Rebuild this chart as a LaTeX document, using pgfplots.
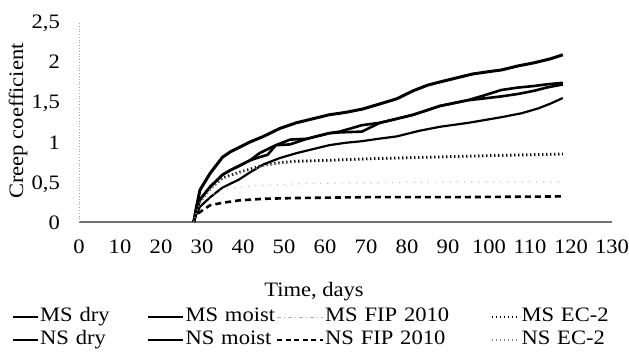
\documentclass[border=0pt]{standalone}
\usepackage{fontspec}
\setmainfont{Liberation Serif}[FakeStretch=1.1]
\usepackage{pgfplots}
\pgfplotsset{compat=1.18}
\begin{document}
\fontsize{20.5bp}{24bp}\selectfont
\begin{tikzpicture}
\path[use as bounding box] (0,0) rectangle (629bp,358bp);
\begin{axis}[
  at={(79bp,136bp)}, anchor=south west,
  width=533bp, height=200bp, scale only axis,
  xmin=0, xmax=130, ymin=0, ymax=2.5,
  xtick={0,10,20,30,40,50,60,70,80,90,100,110,120,130},
  ytick={0,0.5,1,1.5,2,2.5},
  yticklabels={0,{0,5},1,{1,5},2,{2,5}},
  /pgf/number format/assume math mode=true,
  axis x line=bottom, axis y line=left,
  x axis line style={draw=black!55, line width=1.2bp, -},
  y axis line style={draw=black!35, dotted, line width=0.8bp, -},
  major tick length=0pt,
  xticklabel style={anchor=base, yshift=-31bp},
  yticklabel style={anchor=base east, xshift=-19bp, yshift=-7bp, inner sep=0pt},
  xlabel={Time, days},
  xlabel style={at={(axis description cs:0.441,-0.35)}, anchor=center},
  ylabel={Creep coefficient},
  ylabel style={at={(axis description cs:-0.1144,0.505)}, anchor=center},
  legend columns=4,
  legend style={at={(axis description cs:-0.1257,-0.4175)}, anchor=north west,
    draw=none, fill=none, inner sep=0pt, outer sep=0pt,
    column sep=0pt, row sep=0pt,
    nodes={inner xsep=1bp, inner ysep=2bp, text height=14bp, text depth=5bp}},
  legend cell align=left,
  clip=false,
]
% MS dry
\addplot[black, line width=3bp, line join=round,
  legend image code/.code={\draw[black, line width=2.2bp] (0bp,0bp) -- (25bp,0bp);}]
  coordinates {(28,0) (28.5,0.15) (29.5,0.40) (32,0.61) (35,0.81) (37,0.88) (41.7,1.00) (45,1.07) (49,1.17) (53,1.24) (57,1.29) (61,1.34) (65,1.37) (69,1.41) (73,1.47) (77.5,1.54) (81.5,1.64) (85,1.71) (88,1.75) (92,1.80) (96,1.85) (100,1.88) (103,1.90) (107,1.95) (111,1.99) (115,2.04) (118,2.09)};
\addlegendentry[text width=106bp]{MS dry}
% MS moist
\addplot[black, line width=2.2bp, line join=round,
  legend image code/.code={\draw[black, line width=1.4bp] (0bp,0bp) -- (35bp,0bp);}]
  coordinates {(28,0) (28.5,0.08) (29.5,0.19) (32,0.31) (35,0.43) (39,0.53) (41.7,0.62) (45,0.72) (49,0.80) (53,0.86) (57,0.91) (61,0.96) (65,0.99) (69,1.01) (73,1.04) (77.5,1.07) (83,1.14) (88,1.19) (95,1.24) (103,1.31) (108,1.36) (112,1.42) (115,1.48) (118,1.55)};
\addlegendentry[text width=90bp]{MS moist}
% MS FIP 2010
\addplot[black!22, line width=1.2bp, dash pattern=on 1.2bp off 6bp,
  legend image code/.code={\draw[black!30, line width=1bp, dash pattern=on 4bp off 3bp on 1bp off 3bp] (0bp,0bp) -- (46bp,0bp);}]
  coordinates {(28,0) (29,0.2) (32,0.33) (35,0.40) (40,0.44) (45,0.46) (55,0.48) (70,0.49) (90,0.50) (118,0.50)};
\addlegendentry[text width=165bp]{MS FIP 2010}
% MS EC-2
\addplot[black, line width=2.8bp, dash pattern=on 1.3bp off 2.7bp,
  legend image code/.code={\draw[black, line width=1.4bp, dash pattern=on 1.4bp off 2.6bp] (0bp,0bp) -- (28bp,0bp);}]
  coordinates {(28,0) (28.5,0.10) (29.5,0.25) (32,0.42) (35,0.55) (39,0.62) (45,0.71) (49,0.74) (53,0.76) (60,0.77) (70,0.79) (85,0.81) (100,0.83) (118,0.85)};
\addlegendentry[text width=100bp]{MS EC-2}
% NS dry (upper branch)
\addplot[black, line width=2.6bp, line join=round,
  legend image code/.code={\draw[black, line width=1.6bp] (0bp,0bp) -- (25bp,0bp);}]
  coordinates {(28,0) (28.5,0.12) (29.5,0.28) (32,0.44) (35,0.59) (37,0.65) (39,0.70) (41.7,0.77) (44,0.86) (46,0.91) (48,0.96) (51.5,1.03) (55.6,1.04) (61,1.11) (63.6,1.13) (69,1.21) (73.4,1.24) (77.5,1.29) (81.5,1.34) (88,1.45) (94.6,1.52) (98,1.57) (103,1.65) (107,1.68) (111,1.70) (114,1.72) (118,1.74)};
\addlegendentry[text width=106bp]{NS dry}
% NS moist (lower branch)
\addplot[black, line width=2.6bp, line join=round,
  legend image code/.code={\draw[black, line width=2.4bp] (0bp,0bp) -- (35bp,0bp);}]
  coordinates {(28,0) (28.5,0.12) (29.5,0.28) (32,0.44) (35,0.59) (37,0.65) (39,0.70) (41.7,0.77) (44,0.81) (46,0.84) (48,0.96) (51.5,0.97) (55.6,1.04) (61,1.11) (63.6,1.12) (69,1.13) (73.4,1.24) (77.5,1.29) (81.5,1.34) (88,1.45) (94.6,1.52) (98,1.54) (103,1.57) (107,1.60) (111,1.64) (114,1.68) (118,1.72)};
\addlegendentry[text width=90bp]{NS moist}
% NS FIP 2010
\addplot[black, line width=2.6bp, dash pattern=on 6bp off 4bp,
  legend image code/.code={\draw[black, line width=1.6bp, dash pattern=on 5bp off 3.5bp] (0bp,0bp) -- (46bp,0bp);}]
  coordinates {(28,0) (28.5,0.09) (32,0.21) (35,0.24) (39,0.27) (45,0.29) (53,0.30) (70,0.31) (90,0.31) (118,0.32)};
\addlegendentry[text width=165bp]{NS FIP 2010}
% NS EC-2
\addplot[black!45, line width=1.4bp, dash pattern=on 1.2bp off 2.8bp,
  legend image code/.code={\draw[black!50, line width=1.2bp, dash pattern=on 1.2bp off 2.8bp] (0bp,0bp) -- (28bp,0bp);}]
  coordinates {(28,0) (28.5,0.10) (29.5,0.24) (32,0.41) (35,0.54) (39,0.61) (45,0.70) (49,0.73) (53,0.75) (60,0.76) (70,0.78) (85,0.80) (100,0.82) (118,0.84)};
\addlegendentry[text width=100bp]{NS EC-2}
\end{axis}
\end{tikzpicture}
\end{document}
